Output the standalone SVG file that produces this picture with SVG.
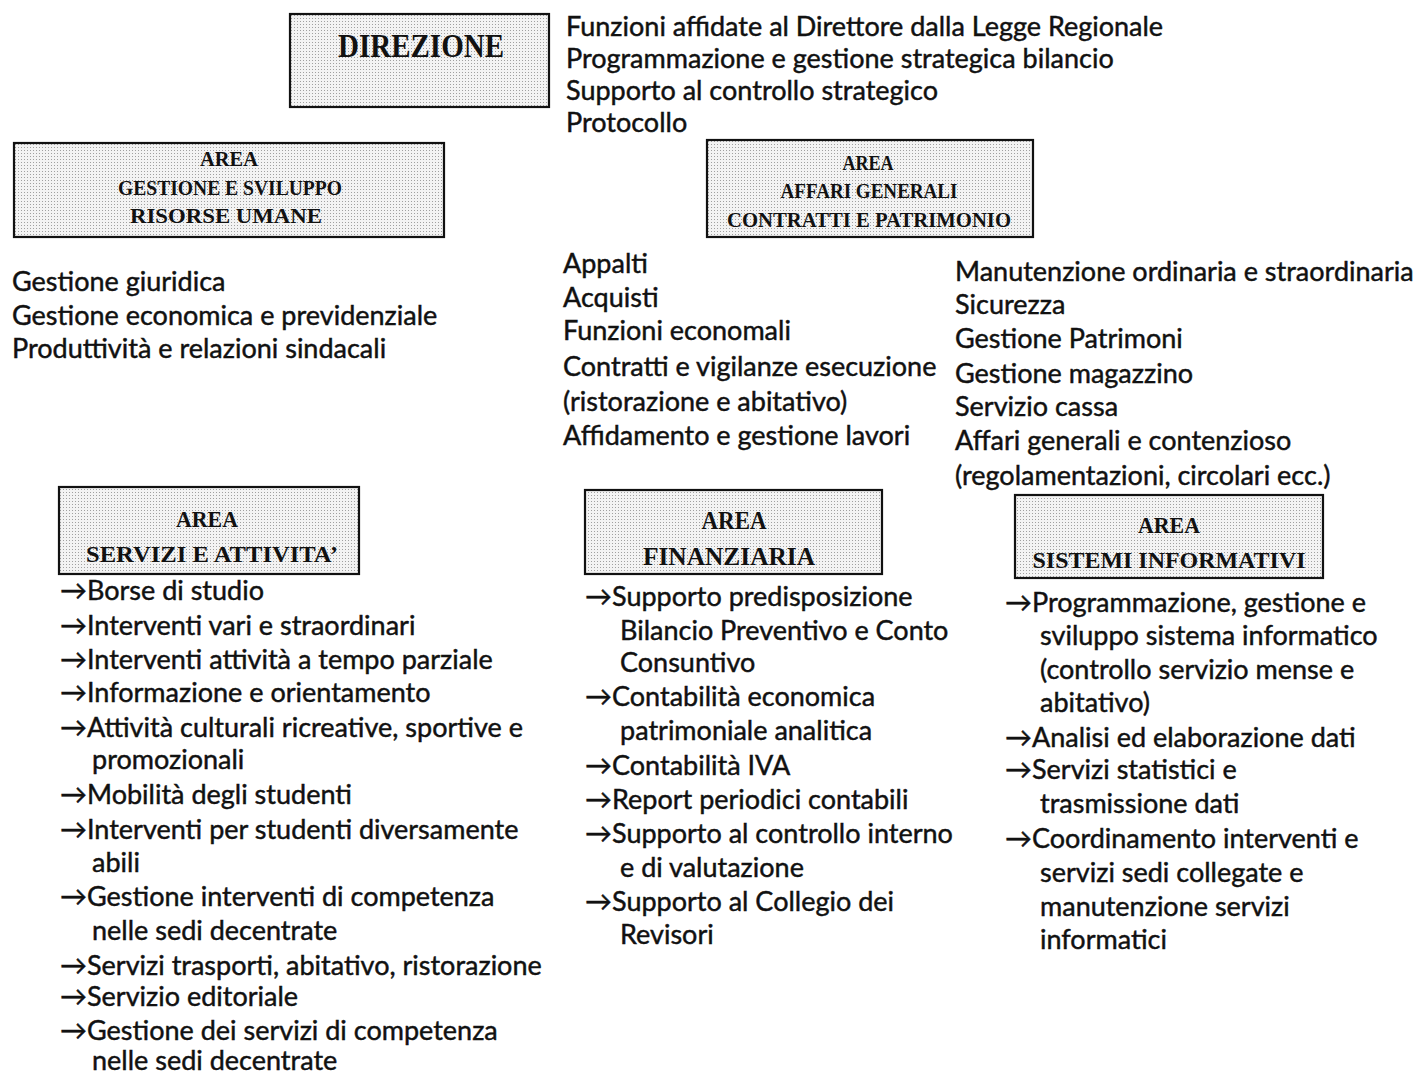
<svg xmlns="http://www.w3.org/2000/svg" width="1420" height="1076" viewBox="0 0 1420 1076">
<defs>
<pattern id="dots" width="3" height="3" patternUnits="userSpaceOnUse">
<rect width="3" height="3" fill="#f3f3f3"/>
<rect width="1" height="1" fill="#a0a0a0"/>
</pattern>
<style>
.box{fill:url(#dots);stroke:#111;stroke-width:2.2}
.bt{font-family:"Liberation Serif","Times New Roman",serif;font-weight:bold;fill:#111;text-anchor:middle}
.t{font-family:Lato,"DejaVu Sans",sans-serif;font-size:27px;fill:#111;stroke:#111;stroke-width:0.45}
</style>
</defs>
<rect width="1420" height="1076" fill="#fff"/>
<g id="connectors"/>

<g id="direzione">
<rect class="box" x="290" y="14" width="259" height="93"/>
<text class="bt" x="421" y="57" font-size="33" textLength="166" lengthAdjust="spacingAndGlyphs">DIREZIONE</text>
</g>
<g id="direzione-list">
<text class="t" x="566" y="36">Funzioni affidate al Direttore dalla Legge Regionale</text>
<text class="t" x="566" y="68">Programmazione e gestione strategica bilancio</text>
<text class="t" x="566" y="100">Supporto al controllo strategico</text>
<text class="t" x="566" y="132">Protocollo</text>
</g>

<g id="area-risorse-umane">
<rect class="box" x="14" y="143" width="430" height="94"/>
<text class="bt" x="229" y="166" font-size="20" textLength="58" lengthAdjust="spacingAndGlyphs">AREA</text>
<text class="bt" x="230" y="195" font-size="20" textLength="224" lengthAdjust="spacingAndGlyphs">GESTIONE E SVILUPPO</text>
<text class="bt" x="226" y="223" font-size="20" textLength="192" lengthAdjust="spacingAndGlyphs">RISORSE UMANE</text>
</g>
<g id="risorse-list">
<text class="t" x="12" y="291">Gestione giuridica</text>
<text class="t" x="12" y="325">Gestione economica e previdenziale</text>
<text class="t" x="12" y="358">Produttività e relazioni sindacali</text>
</g>

<g id="area-affari-generali">
<rect class="box" x="707" y="140" width="326" height="97"/>
<text class="bt" x="868" y="170" font-size="20" textLength="51" lengthAdjust="spacingAndGlyphs">AREA</text>
<text class="bt" x="869" y="198" font-size="20" textLength="177" lengthAdjust="spacingAndGlyphs">AFFARI GENERALI</text>
<text class="bt" x="869" y="227" font-size="20" textLength="284" lengthAdjust="spacingAndGlyphs">CONTRATTI E PATRIMONIO</text>
</g>
<g id="affari-list-1">
<text class="t" x="563" y="273">Appalti</text>
<text class="t" x="563" y="307">Acquisti</text>
<text class="t" x="563" y="340">Funzioni economali</text>
<text class="t" x="563" y="376">Contratti e vigilanze esecuzione</text>
<text class="t" x="563" y="411">(ristorazione e abitativo)</text>
<text class="t" x="563" y="445">Affidamento e gestione lavori</text>
</g>
<g id="affari-list-2">
<text class="t" x="955" y="281">Manutenzione ordinaria e straordinaria</text>
<text class="t" x="955" y="314">Sicurezza</text>
<text class="t" x="955" y="348">Gestione Patrimoni</text>
<text class="t" x="955" y="383">Gestione magazzino</text>
<text class="t" x="955" y="416">Servizio cassa</text>
<text class="t" x="955" y="450">Affari generali e contenzioso</text>
<text class="t" x="955" y="485">(regolamentazioni, circolari ecc.)</text>
</g>

<g id="area-servizi">
<rect class="box" x="59" y="487" width="300" height="87"/>
<text class="bt" x="207" y="527" font-size="24" textLength="62" lengthAdjust="spacingAndGlyphs">AREA</text>
<text class="bt" x="212" y="562" font-size="24" textLength="252" lengthAdjust="spacingAndGlyphs">SERVIZI E ATTIVITA’</text>
</g>
<g id="servizi-list">
<text class="t" x="60" y="600">→Borse di studio</text>
<text class="t" x="60" y="635">→Interventi vari e straordinari</text>
<text class="t" x="60" y="669">→Interventi attività a tempo parziale</text>
<text class="t" x="60" y="702">→Informazione e orientamento</text>
<text class="t" x="60" y="737">→Attività culturali ricreative, sportive e</text>
<text class="t" x="92" y="769">promozionali</text>
<text class="t" x="60" y="804">→Mobilità degli studenti</text>
<text class="t" x="60" y="839">→Interventi per studenti diversamente</text>
<text class="t" x="92" y="872">abili</text>
<text class="t" x="60" y="906">→Gestione interventi di competenza</text>
<text class="t" x="92" y="940">nelle sedi decentrate</text>
<text class="t" x="60" y="975">→Servizi trasporti, abitativo, ristorazione</text>
<text class="t" x="60" y="1006">→Servizio editoriale</text>
<text class="t" x="60" y="1040">→Gestione dei servizi di competenza</text>
<text class="t" x="92" y="1070">nelle sedi decentrate</text>
</g>

<g id="area-finanziaria">
<rect class="box" x="585" y="490" width="297" height="84"/>
<text class="bt" x="734" y="529" font-size="26" textLength="65" lengthAdjust="spacingAndGlyphs">AREA</text>
<text class="bt" x="729" y="565" font-size="26" textLength="172" lengthAdjust="spacingAndGlyphs">FINANZIARIA</text>
</g>
<g id="finanziaria-list">
<text class="t" x="585" y="606">→Supporto predisposizione</text>
<text class="t" x="620" y="640">Bilancio Preventivo e Conto</text>
<text class="t" x="620" y="672">Consuntivo</text>
<text class="t" x="585" y="706">→Contabilità economica</text>
<text class="t" x="620" y="740">patrimoniale analitica</text>
<text class="t" x="585" y="775">→Contabilità IVA</text>
<text class="t" x="585" y="809">→Report periodici contabili</text>
<text class="t" x="585" y="843">→Supporto al controllo interno</text>
<text class="t" x="620" y="877">e di valutazione</text>
<text class="t" x="585" y="911">→Supporto al Collegio dei</text>
<text class="t" x="620" y="944">Revisori</text>
</g>

<g id="area-sistemi-informativi">
<rect class="box" x="1015" y="495" width="308" height="83"/>
<text class="bt" x="1169" y="533" font-size="24" textLength="62" lengthAdjust="spacingAndGlyphs">AREA</text>
<text class="bt" x="1169" y="568" font-size="24" textLength="273" lengthAdjust="spacingAndGlyphs">SISTEMI INFORMATIVI</text>
</g>
<g id="sistemi-list">
<text class="t" x="1005" y="612">→Programmazione, gestione e</text>
<text class="t" x="1040" y="645">sviluppo sistema informatico</text>
<text class="t" x="1040" y="679">(controllo servizio mense e</text>
<text class="t" x="1040" y="712">abitativo)</text>
<text class="t" x="1005" y="747">→Analisi ed elaborazione dati</text>
<text class="t" x="1005" y="779">→Servizi statistici e</text>
<text class="t" x="1040" y="813">trasmissione dati</text>
<text class="t" x="1005" y="848">→Coordinamento interventi e</text>
<text class="t" x="1040" y="882">servizi sedi collegate e</text>
<text class="t" x="1040" y="916">manutenzione servizi</text>
<text class="t" x="1040" y="949">informatici</text>
</g>
</svg>
